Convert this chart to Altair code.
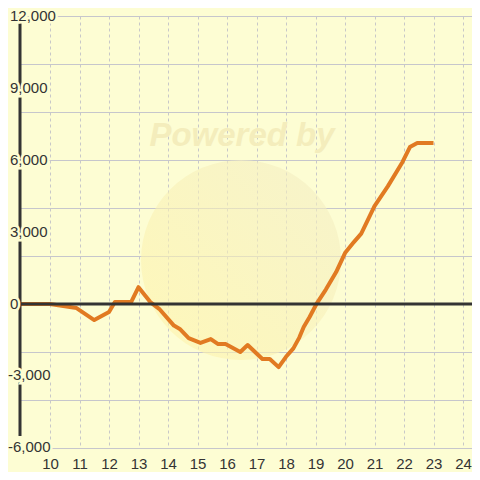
import altair as alt
import pandas as pd

# Line data (hour, difference)
hours = [9.0, 10.0, 10.9, 11.5, 12.0, 12.2, 12.75, 13.0, 13.4, 13.7, 14.2, 14.4, 14.7,
         15.1, 15.45, 15.7, 15.95, 16.45, 16.7, 17.2, 17.45, 17.75, 18.0, 18.25, 18.45,
         18.6, 18.8, 19.05, 19.35, 19.7, 20.0, 20.3, 20.55, 21.0, 21.45, 21.95, 22.2,
         22.45, 23.0]
values = [0, 0, -170, -670, -330, 80, 80, 700, 80, -200, -900, -1040, -1420,
          -1620, -1460, -1670, -1670, -2000, -1710, -2290, -2290, -2630, -2200, -1850, -1400,
          -960, -540, 40, 600, 1330, 2120, 2580, 2930, 4080, 4900, 5920, 6540,
          6710, 6710]

x_ticks = list(range(10, 25))
y_grid = list(range(-6000, 12001, 1000))
y_label_vals = [12000, 9000, 6000, 3000, 0, -3000, -6000]
y_label_txt = ["12,000", "9,000", "6,000", "3,000", "0", "-3,000", "-6,000"]

BG = "#FDFDD3"
FONT = "Liberation Sans"
LABEL_COLOR = "#333333"

df = pd.DataFrame({"h": hours, "v": values})
lab = pd.DataFrame({"v": y_label_vals, "t": y_label_txt})

W, H = 452, 432
xscale = alt.Scale(domain=[8.983, 24.305], nice=False, zero=False)
yscale = alt.Scale(domain=[-6000, 12000], nice=False, zero=False)

# watermark
circle = alt.Chart(pd.DataFrame({"a": [0]})).mark_circle(
    size=40000,
    fill=alt.Gradient(gradient="linear",
                      stops=[alt.GradientStop(color="#FFF4A8", offset=0),
                             alt.GradientStop(color="#F2EDC6", offset=1)],
                      x1=0, y1=1, x2=1, y2=0),
    fillOpacity=0.6, strokeWidth=0,
).encode(x=alt.value(221), y=alt.value(244))

wm_text = alt.Chart(pd.DataFrame({"a": [0]})).mark_text(
    text="Powered by", font=FONT, fontSize=33, fontWeight="bold", fontStyle="italic",
    fill="#F4EDBC", align="center", baseline="middle",
).encode(x=alt.value(222), y=alt.value(120))

line = alt.Chart(df).mark_line(color="#E17A22", strokeWidth=4, strokeJoin="round").encode(
    x=alt.X("h:Q", scale=xscale,
            axis=alt.Axis(values=x_ticks, grid=True, gridDash=[3, 3], gridColor="#C8C8C8",
                          gridWidth=1, domain=False, ticks=False, tickSize=0, labelPadding=8,
                          labelFont=FONT, labelFontSize=15, labelColor=LABEL_COLOR,
                          labelFlush=False, title=None)),
    y=alt.Y("v:Q", scale=yscale,
            axis=alt.Axis(values=y_grid, grid=True, gridColor="#C6C6CC", gridWidth=1,
                          labels=False, domain=False, ticks=False, title=None)),
)

zero = alt.Chart(pd.DataFrame({"v": [0]})).mark_rule(color="#333333", strokeWidth=3).encode(
    y=alt.Y("v:Q", scale=yscale), x=alt.value(0), x2=alt.value(W))

yaxis = alt.Chart(pd.DataFrame({"v": [-5500], "v2": [12000]})).mark_rule(
    color="#333333", strokeWidth=3).encode(
    x=alt.value(0), y=alt.Y("v:Q", scale=yscale), y2="v2:Q")

pos = alt.Chart(lab).transform_filter("datum.v >= 0")
neg = alt.Chart(lab).transform_filter("datum.v < 0")

def lbl(base, xpx, halo, dy=0):
    if halo:
        m = base.mark_text(font=FONT, fontSize=15, align="left", baseline="middle",
                           fill=BG, stroke=BG, strokeWidth=5, dy=dy)
    else:
        m = base.mark_text(font=FONT, fontSize=15, align="left", baseline="middle",
                           fill=LABEL_COLOR, dy=dy)
    return m.encode(x=alt.value(xpx), y=alt.Y("v:Q", scale=yscale), text="t:N")

chart = alt.layer(
    circle, wm_text, line, zero, yaxis,
    lbl(pos, -10, True), lbl(neg, -12, True, -1),
    lbl(pos, -10, False), lbl(neg, -12, False, -1),
).properties(
    width=W, height=H, background=BG,
    padding={"left": 12, "top": 8, "right": 0, "bottom": 24},
    autosize=alt.AutoSizeParams(type="none"),
).configure_view(strokeWidth=0)

chart.save("out.html", embed_options={"renderer": "svg", "actions": False})
